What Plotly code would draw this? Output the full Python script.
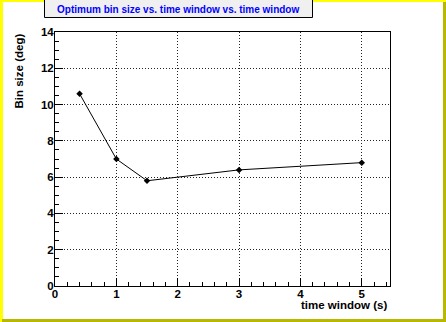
import plotly.graph_objects as go

# Optimum bin size as a function of the time window
time_window = [0.4, 1.0, 1.5, 3.0, 5.0]
bin_size = [10.6, 7.0, 5.8, 6.4, 6.8]

x_ticks = [0, 1, 2, 3, 4, 5]
y_ticks = [0, 2, 4, 6, 8, 10, 12, 14]

W, H = 446, 322
L, R, T, B = 55, 56, 32, 36
PW, PH = W - L - R, H - T - B


def px(x):
    return (x - L) / PW


def py(y):
    return (H - B - y) / PH


FONT = "Liberation Sans"

fig = go.Figure()
fig.add_trace(go.Scatter(
    x=time_window, y=bin_size, mode="lines+markers",
    line=dict(color="black", width=1),
    marker=dict(symbol="diamond", size=5, color="black"),
    showlegend=False,
))

axis_common = dict(
    showline=True, mirror=True, linecolor="black", linewidth=1,
    showgrid=True, gridcolor="#222222", griddash="1px,2px", gridwidth=1,
    zeroline=False, ticks="inside", tickcolor="black", tickwidth=1,
    tickfont=dict(family=FONT, size=11.5, color="black", weight="bold"),
)

fig.update_xaxes(
    range=[0, 5.46], tickvals=x_ticks, ticklen=8, ticklabelstandoff=-3,
    minor=dict(dtick=0.2, ticks="inside", ticklen=4, tickcolor="black", showgrid=False),
    **axis_common,
)
fig.update_yaxes(
    range=[0, 14], tickvals=y_ticks, ticklen=8, ticklabelstandoff=-2,
    minor=dict(dtick=0.5, ticks="inside", ticklen=4, tickcolor="black", showgrid=False),
    **axis_common,
)

shapes = [
    # canvas bevel border
    dict(type="rect", xref="paper", yref="paper", x0=px(0), x1=px(W), y0=py(2), y1=py(0),
         fillcolor="#ffff00", line_width=0, layer="below"),
    dict(type="rect", xref="paper", yref="paper", x0=px(0), x1=px(3), y0=py(H), y1=py(0),
         fillcolor="#ffff00", line_width=0, layer="below"),
    dict(type="rect", xref="paper", yref="paper", x0=px(443), x1=px(W), y0=py(H), y1=py(2),
         fillcolor="#b8b800", line_width=0, layer="below"),
    dict(type="rect", xref="paper", yref="paper", x0=px(2), x1=px(W), y0=py(H), y1=py(319),
         fillcolor="#b8b800", line_width=0, layer="below"),
    # title box
    dict(type="rect", xref="paper", yref="paper", x0=px(44.5), x1=px(312.5), y0=py(17.5), y1=py(-2),
         fillcolor="#f0f0f0", line=dict(color="black", width=1), layer="above"),
]

annotations = [
    dict(text="<b>Optimum bin size vs. time window vs. time window</b>",
         xref="paper", yref="paper", x=px(178), y=py(9.5), xanchor="center", yanchor="middle",
         showarrow=False, font=dict(family=FONT, size=10, color="#0000ff")),
    dict(text="<b>time window (s)</b>",
         xref="paper", yref="paper", x=px(389), y=py(305), xanchor="right", yanchor="middle",
         showarrow=False, font=dict(family=FONT, size=11.5, color="black")),
    dict(text="<b>Bin size (deg)</b>", textangle=-90,
         xref="paper", yref="paper", x=px(18), y=py(32), xanchor="center", yanchor="top",
         showarrow=False, font=dict(family=FONT, size=11.5, color="black")),
]

fig.update_layout(
    width=W, height=H,
    margin=dict(l=L, r=R, t=T, b=B, pad=0),
    paper_bgcolor="white", plot_bgcolor="white",
    shapes=shapes, annotations=annotations,
    showlegend=False,
)

fig.write_html("out.html")
